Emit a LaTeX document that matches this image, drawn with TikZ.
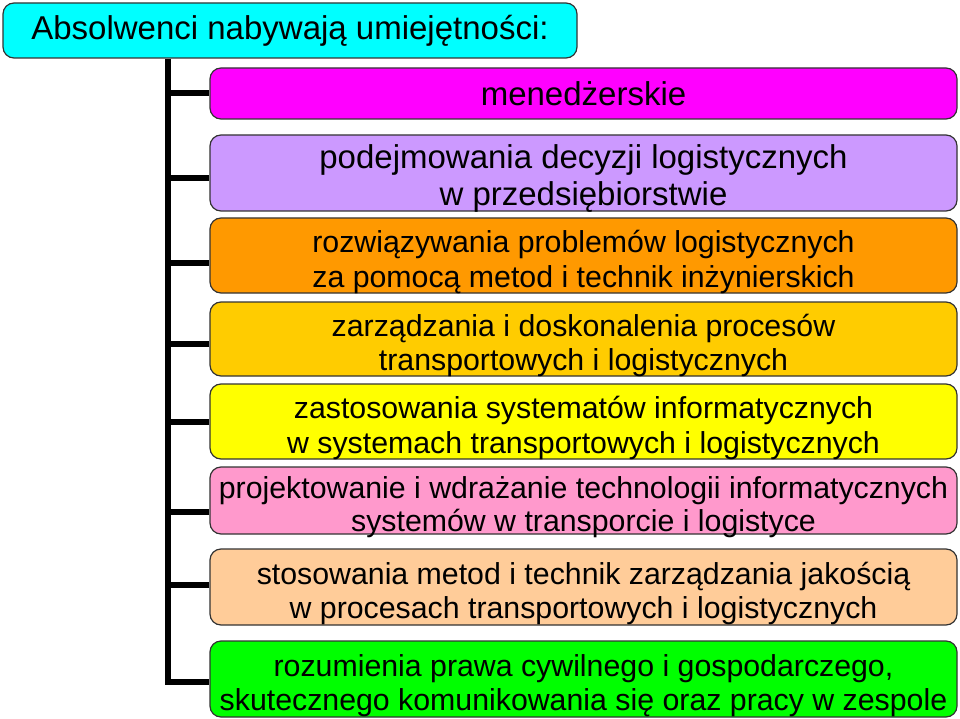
\documentclass[tikz,border=0pt]{standalone}
\usepackage{fontspec}
\setmainfont{Liberation Sans}
\usetikzlibrary{positioning}
\definecolor{heading}{HTML}{00FFFF}
\definecolor{mgmt}{HTML}{FF00FF}
\definecolor{decision}{HTML}{CC99FF}
\definecolor{problem}{HTML}{FF9900}
\definecolor{process}{HTML}{FFCC00}
\definecolor{systems}{HTML}{FFFF00}
\definecolor{design}{HTML}{FF99CC}
\definecolor{quality}{HTML}{FFCC99}
\definecolor{law}{HTML}{00FF00}

\begin{document}
\begin{tikzpicture}[
    x=1pt, y=1pt,
    head/.style={draw=black!80, line width=1.2pt, rounded corners=11pt, fill=heading,
        minimum width=574pt, minimum height=55pt, inner sep=0pt,
        font=\fontsize{33}{37}\selectfont},
    skill/.style={draw=black!80, line width=1.2pt, rounded corners=11pt,
        minimum width=747pt, inner xsep=0pt, inner ysep=-8pt, align=center,
        font=\fontsize{30.3}{34.5}\selectfont},
    big/.style={font=\fontsize{33}{37.5}\selectfont},
    lift/.style={execute at begin node={\rule{0pt}{#1}}},
    branch/.style={draw=black, line width=6pt}
]
\useasboundingbox (0,0) rectangle (960,-719);

% Heading
\node[head] (head) at (290,-30.5) {Absolwenci nabywają umiejętności:};
\coordinate (trunk) at ([xshift=166pt]head.south west);

% Skills
\node[skill, big, fill=mgmt, minimum height=51pt] (s1) at (583.5,-93.5) {menedżerskie};
\node[skill, big, lift=72pt, fill=decision, minimum height=76pt] (s2) at (583.5,-173)
    {podejmowania decyzji logistycznych\\w przedsiębiorstwie};
\node[skill, lift=70pt, fill=problem, minimum height=75pt] (s3) at (583.5,-255.5)
    {rozwiązywania problemów logistycznych\\za pomocą metod i technik inżynierskich};
\node[skill, lift=70pt, fill=process, minimum height=74pt] (s4) at (583.5,-339)
    {zarządzania i doskonalenia procesów\\transportowych i logistycznych};
\node[skill, lift=70pt, fill=systems, minimum height=75pt] (s5) at (583.5,-421.5)
    {zastosowania systematów informatycznych\\w systemach transportowych i logistycznych};
\node[skill, lift=69pt, fill=design, minimum height=67pt,
    font=\fontsize{30.3}{33}\selectfont] (s6) at (583.5,-500.5)
    {projektowanie i wdrażanie technologii informatycznych\\systemów w transporcie i logistyce};
\node[skill, lift=70pt, fill=quality, minimum height=76pt] (s7) at (583.5,-587)
    {stosowania metod i technik zarządzania jakością\\w procesach transportowych i logistycznych};
\node[skill, lift=70pt, fill=law, minimum height=76pt] (s8) at (583.5,-679)
    {rozumienia prawa cywilnego i gospodarczego,\\skutecznego komunikowania się oraz pracy w zespole};

% Tree
\foreach \s/\dy in {s1/0, s2/-5, s3/-7, s4/-5, s5/0, s6/-11, s7/2, s8/-3} {
    \path ([yshift=\dy pt]\s.west) coordinate (j\s);
}
\foreach \s in {s1, s2, s3, s4, s5, s6, s7}
    \draw[branch] (j\s) -- (j\s -| trunk);
\draw[branch] (trunk) |- (js8);

\end{tikzpicture}
\end{document}
